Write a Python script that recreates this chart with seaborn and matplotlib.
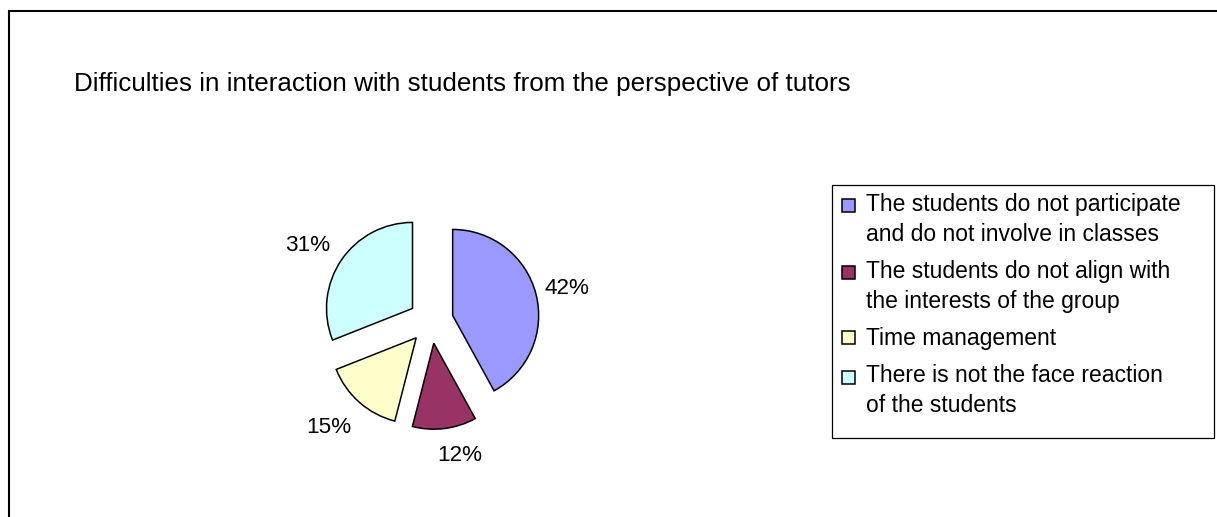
import matplotlib
matplotlib.use('Agg')
import numpy as np
import matplotlib.pyplot as plt
import seaborn as sns
from matplotlib.patches import Rectangle
from matplotlib.legend_handler import HandlerPatch

title = 'Difficulties in interaction with students from the perspective of tutors'
categories = [
    'The students do not participate\nand do not involve in classes',
    'The students do not align with\nthe interests of the group',
    'Time management',
    'There is not the face reaction\nof the students',
]
shares = [42, 12, 15, 31]
colors = ['#9999FF', '#993366', '#FFFFCC', '#CCFFFF']

sns.set_theme(style='white')
plt.rcParams['font.family'] = ['Liberation Sans', 'DejaVu Sans']
plt.rcParams['text.color'] = 'black'

W, H = 1217, 517
fig = plt.figure(figsize=(W / 100, H / 100), dpi=100)
fig.patch.set_facecolor('white')

# pie axes: 344 px square, centre of the unexploded pie at (431, 321) px
ax = fig.add_axes([259 / W, 24 / H, 344 / W, 344 / H])
wedges, texts, autotexts = ax.pie(
    shares, colors=colors, startangle=90, counterclock=False,
    explode=[0.26] * len(shares), autopct='%1.0f%%', pctdistance=1.4,
    wedgeprops=dict(edgecolor='black', linewidth=1.1),
    textprops=dict(fontsize=16.2, color='black'),
)
ax.set_xlim(-2, 2)
ax.set_ylim(-2, 2)
ax.set_aspect('equal')
ax.axis('off')

# excel-like placement of the percentage labels around each slice
label_dist = [1.37, 1.34, 1.46, 1.42]
label_turn = [-1, 6, -3, 3]
for w, t, d, turn in zip(wedges, autotexts, label_dist, label_turn):
    ang = np.deg2rad((w.theta1 + w.theta2) / 2 + turn)
    cx, cy = w.center
    t.set_position((cx + d * w.r * np.cos(ang), cy + d * w.r * np.sin(ang)))


def square(shift):
    def make(legend, orig_handle, xdescent, ydescent, width, height, fontsize):
        s = 0.57 * fontsize
        x0 = -xdescent + (width - s) / 2
        y0 = -ydescent + (height - s) / 2 + shift * fontsize
        return Rectangle((x0, y0), s, s)
    return make


hmap = {w: HandlerPatch(patch_func=square(0.64 if '\n' in lab else 0.0))
        for w, lab in zip(wedges, categories)}

leg = fig.legend(
    wedges, categories, loc='upper left',
    bbox_to_anchor=(832 / W, 1 - 185 / H),
    bbox_transform=fig.transFigure, borderaxespad=0,
    fontsize=16.5, frameon=False, labelcolor='black',
    handlelength=0.7, handleheight=0.7,
    handletextpad=0.45, labelspacing=0.62, borderpad=0.35,
    handler_map=hmap,
)
for t in leg.get_texts():
    t.set_linespacing(1.38)

# legend box
fig.add_artist(Rectangle((832 / W, 1 - 438 / H), (1214 - 832) / W, (438 - 185) / H,
                         transform=fig.transFigure, fill=False,
                         edgecolor='black', linewidth=0.9))

fig.text(74 / W, 1 - 91 / H, title, fontsize=18.7, va='baseline', ha='left',
         color='black')

# chart area border (cropped on the right and bottom)
fig.add_artist(Rectangle((8.5 / W, -0.5), 2, 1 - 10.5 / H + 0.5,
                         transform=fig.transFigure, fill=False,
                         edgecolor='black', linewidth=1.5))

fig.savefig('out.png', dpi=100, facecolor='white')
